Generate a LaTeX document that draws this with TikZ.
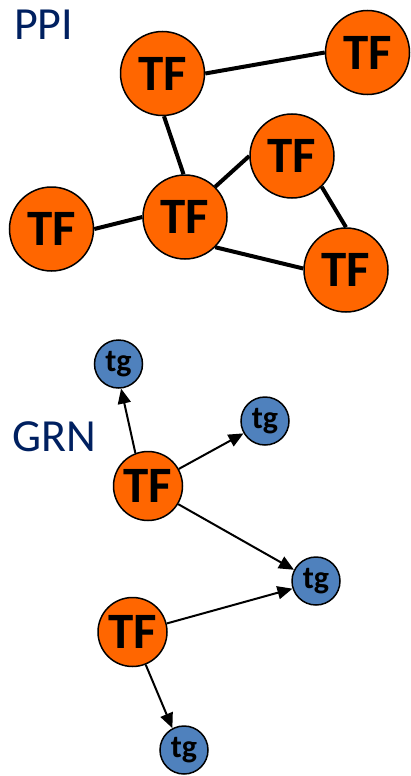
\documentclass[tikz,border=0pt]{standalone}
\usepackage{fontspec}
\setmainfont{Carlito}
\usetikzlibrary{arrows.meta}
\definecolor{tforange}{RGB}{255,102,0}
\definecolor{tgblue}{RGB}{79,129,189}
\definecolor{labelblue}{RGB}{0,32,96}
\tikzset{
  tfbig/.style={circle,draw=black,line width=1.5pt,fill=tforange,minimum size=84pt,inner sep=0pt,font=\fontsize{51}{51}\selectfont\bfseries},
  tfsmall/.style={circle,draw=black,line width=1.5pt,fill=tforange,minimum size=69pt,inner sep=0pt,font=\fontsize{51}{51}\selectfont\bfseries},
  tgnode/.style={circle,draw=black,line width=1.5pt,fill=tgblue,minimum size=48pt,inner sep=0pt,font=\fontsize{32}{32}\selectfont\bfseries},
  ppiedge/.style={line width=4pt},
  grnedge/.style={line width=2pt,-{Triangle[length=15pt,width=13pt]}},
  netlabel/.style={anchor=base west,inner sep=0pt,text=labelblue,font=\fontsize{46}{46}\selectfont}
}
\begin{document}
\begin{tikzpicture}[x=1pt,y=-1pt]
\useasboundingbox (0,0) rectangle (411,776);
% PPI
\node[netlabel] (ppi) at (14,40) {PPI};
\node[tfbig] (a) at (162.5,73.5) {TF};
\node[tfbig] (b) at (367.5,52.5) {TF};
\node[tfbig] (c) at (292,156) {TF};
\node[tfbig] (d) at (185,217) {TF};
\node[tfbig] (e) at (51.5,229) {TF};
\node[tfbig] (f) at (346,270) {TF};
\draw[ppiedge] (a.0) -- (b.180);
\draw[ppiedge] (a.-88) -- (d.92);
\draw[ppiedge] (d.45) -- (c.180);
\draw[ppiedge] (d.180) -- (e.0);
\draw[ppiedge] (d.-45) -- (f.178);
\draw[ppiedge] (c.-46) -- (f.90);
% GRN
\node[netlabel] (grn) at (12,451) {GRN};
\node[tgnode] (t1) at (118.5,364) {tg};
\node[tgnode] (t2) at (265,421) {tg};
\node[tfsmall] (g1) at (148,486) {TF};
\node[tgnode] (t3) at (316,581) {tg};
\node[tfsmall] (g2) at (132.5,632) {TF};
\node[tgnode] (t4) at (184,750) {tg};
\draw[grnedge] (g1.111) -- (t1.-84);
\draw[grnedge] (g1.29) -- (t2.210);
\draw[grnedge] (g1.-31) -- (t3.153);
\draw[grnedge] (g2.14) -- (t3.198);
\draw[grnedge] (g2.-68) -- (t4.118);
\end{tikzpicture}
\end{document}
